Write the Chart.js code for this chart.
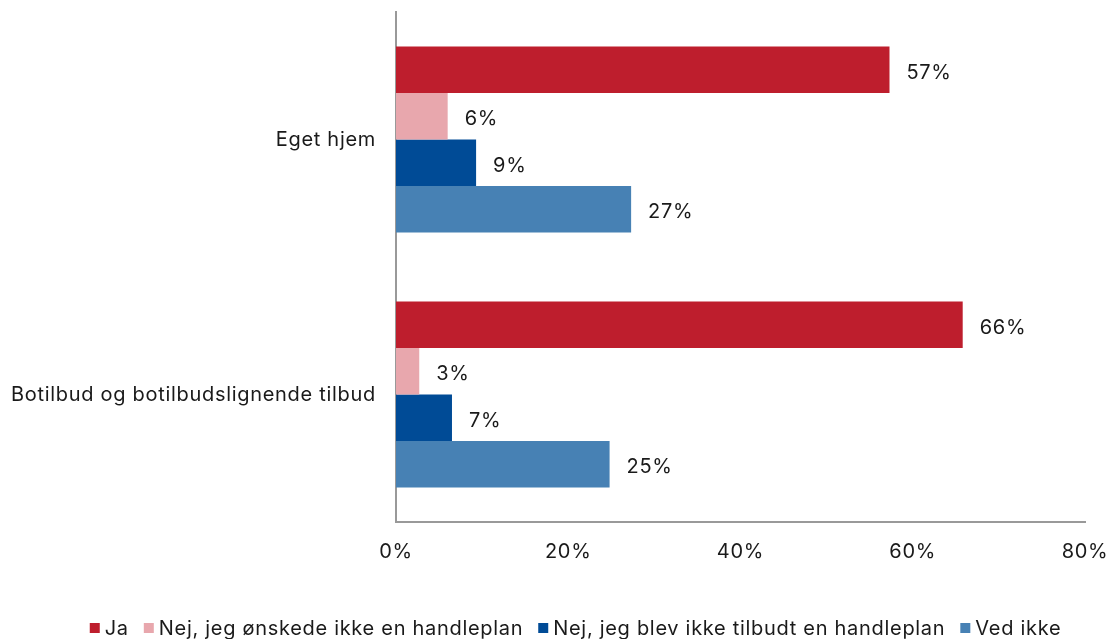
<!DOCTYPE html>
<html><head><meta charset="utf-8">
<script src="https://cdn.jsdelivr.net/npm/chart.js@4/dist/chart.umd.min.js"></script>
<style>html,body{margin:0;padding:0;background:#fff}#wrap{width:1110px;height:639px}</style>
</head><body><div id="wrap"><canvas id="c" width="1110" height="639"></canvas></div>
<script>
const categories = ["Eget hjem", "Botilbud og botilbudslignende tilbud"];
const seriesNames = ["Ja", "Nej, jeg ønskede ikke en handleplan", "Nej, jeg blev ikke tilbudt en handleplan", "Ved ikke"];
const ja = [57.3, 65.8];
const nejOnskede = [6.0, 2.7];
const nejTilbudt = [9.3, 6.5];
const vedIkke = [27.3, 24.8];
const colors = ["#BE1E2D", "#E8A7AD", "#004B96", "#4781B4"];
const xTicks = [0, 20, 40, 60, 80];

const FONT = "Inter";
const FS = 20;
const TXT = "#1a1a1a";
const LS = "0.7px";

const spacingPlugin = {
  id: 'spacing',
  beforeDraw(chart) { chart.ctx.letterSpacing = LS; }
};

const labelPlugin = {
  id: 'barLabels',
  afterDatasetsDraw(chart) {
    const ctx = chart.ctx;
    ctx.save();
    ctx.letterSpacing = LS;
    ctx.font = FS + "px " + FONT;
    ctx.fillStyle = TXT;
    ctx.textBaseline = "middle";
    ctx.textAlign = "left";
    chart.data.datasets.forEach((ds, i) => {
      const meta = chart.getDatasetMeta(i);
      meta.data.forEach((bar, j) => {
        ctx.fillText(Math.round(ds.data[j]) + "%", bar.x + 17, bar.y + 3);
      });
    });
    ctx.restore();
  }
};

const legendPlugin = {
  id: 'customLegend',
  afterDraw(chart) {
    const ctx = chart.ctx;
    ctx.save();
    ctx.letterSpacing = LS;
    ctx.font = FS + "px " + FONT;
    ctx.textBaseline = "middle";
    ctx.textAlign = "left";
    const box = 10, gapText = 5, gapItem = 15, cy = 628;
    const widths = seriesNames.map(n => ctx.measureText(n).width);
    const total = widths.reduce((a, w) => a + box + gapText + w, 0) + gapItem * (seriesNames.length - 1);
    let x = 575.5 - total / 2;
    seriesNames.forEach((n, i) => {
      ctx.fillStyle = colors[i];
      ctx.fillRect(x, cy - box / 2, box, box);
      x += box + gapText;
      ctx.fillStyle = TXT;
      ctx.fillText(n, x, cy + 1);
      x += widths[i] + gapItem;
    });
    ctx.restore();
  }
};

function draw() {
  const seriesData = [ja, nejOnskede, nejTilbudt, vedIkke];
  new Chart(document.getElementById('c'), {
    type: 'bar',
    data: {
      labels: categories,
      datasets: seriesNames.map((n, i) => ({
        label: n, data: seriesData[i], backgroundColor: colors[i],
        categoryPercentage: 0.73, barPercentage: 1.0
      }))
    },
    options: {
      indexAxis: 'y',
      responsive: false,
      animation: false,
      layout: { padding: { top: 12, right: 25, left: 0, bottom: 67 } },
      scales: {
        x: {
          min: 0, max: 80,
          afterBuildTicks(axis) { axis.ticks = xTicks.map(v => ({ value: v })); },
          afterFit(axis) { axis.height = 50; axis.paddingLeft = 0; axis.paddingRight = 0; },
          grid: { display: false, drawTicks: false },
          border: { display: true, color: "#999999", width: 2 },
          ticks: { color: TXT, font: { family: FONT, size: FS }, padding: 18, maxRotation: 0, callback: v => v + "%" }
        },
        y: {
          afterFit(axis) { axis.width = 396; axis.paddingTop = 0; axis.paddingBottom = 0; },
          grid: { display: false, drawTicks: false },
          border: { display: true, color: "#999999", width: 2 },
          ticks: { color: TXT, font: { family: FONT, size: FS }, padding: 20 }
        }
      },
      plugins: {
        legend: { display: false },
        tooltip: { enabled: false }
      }
    },
    plugins: [spacingPlugin, labelPlugin, legendPlugin]
  });
}
if (document.fonts && document.fonts.load) {
  document.fonts.load(FS + "px Inter").then(draw, draw);
} else { draw(); }
</script></body></html>
